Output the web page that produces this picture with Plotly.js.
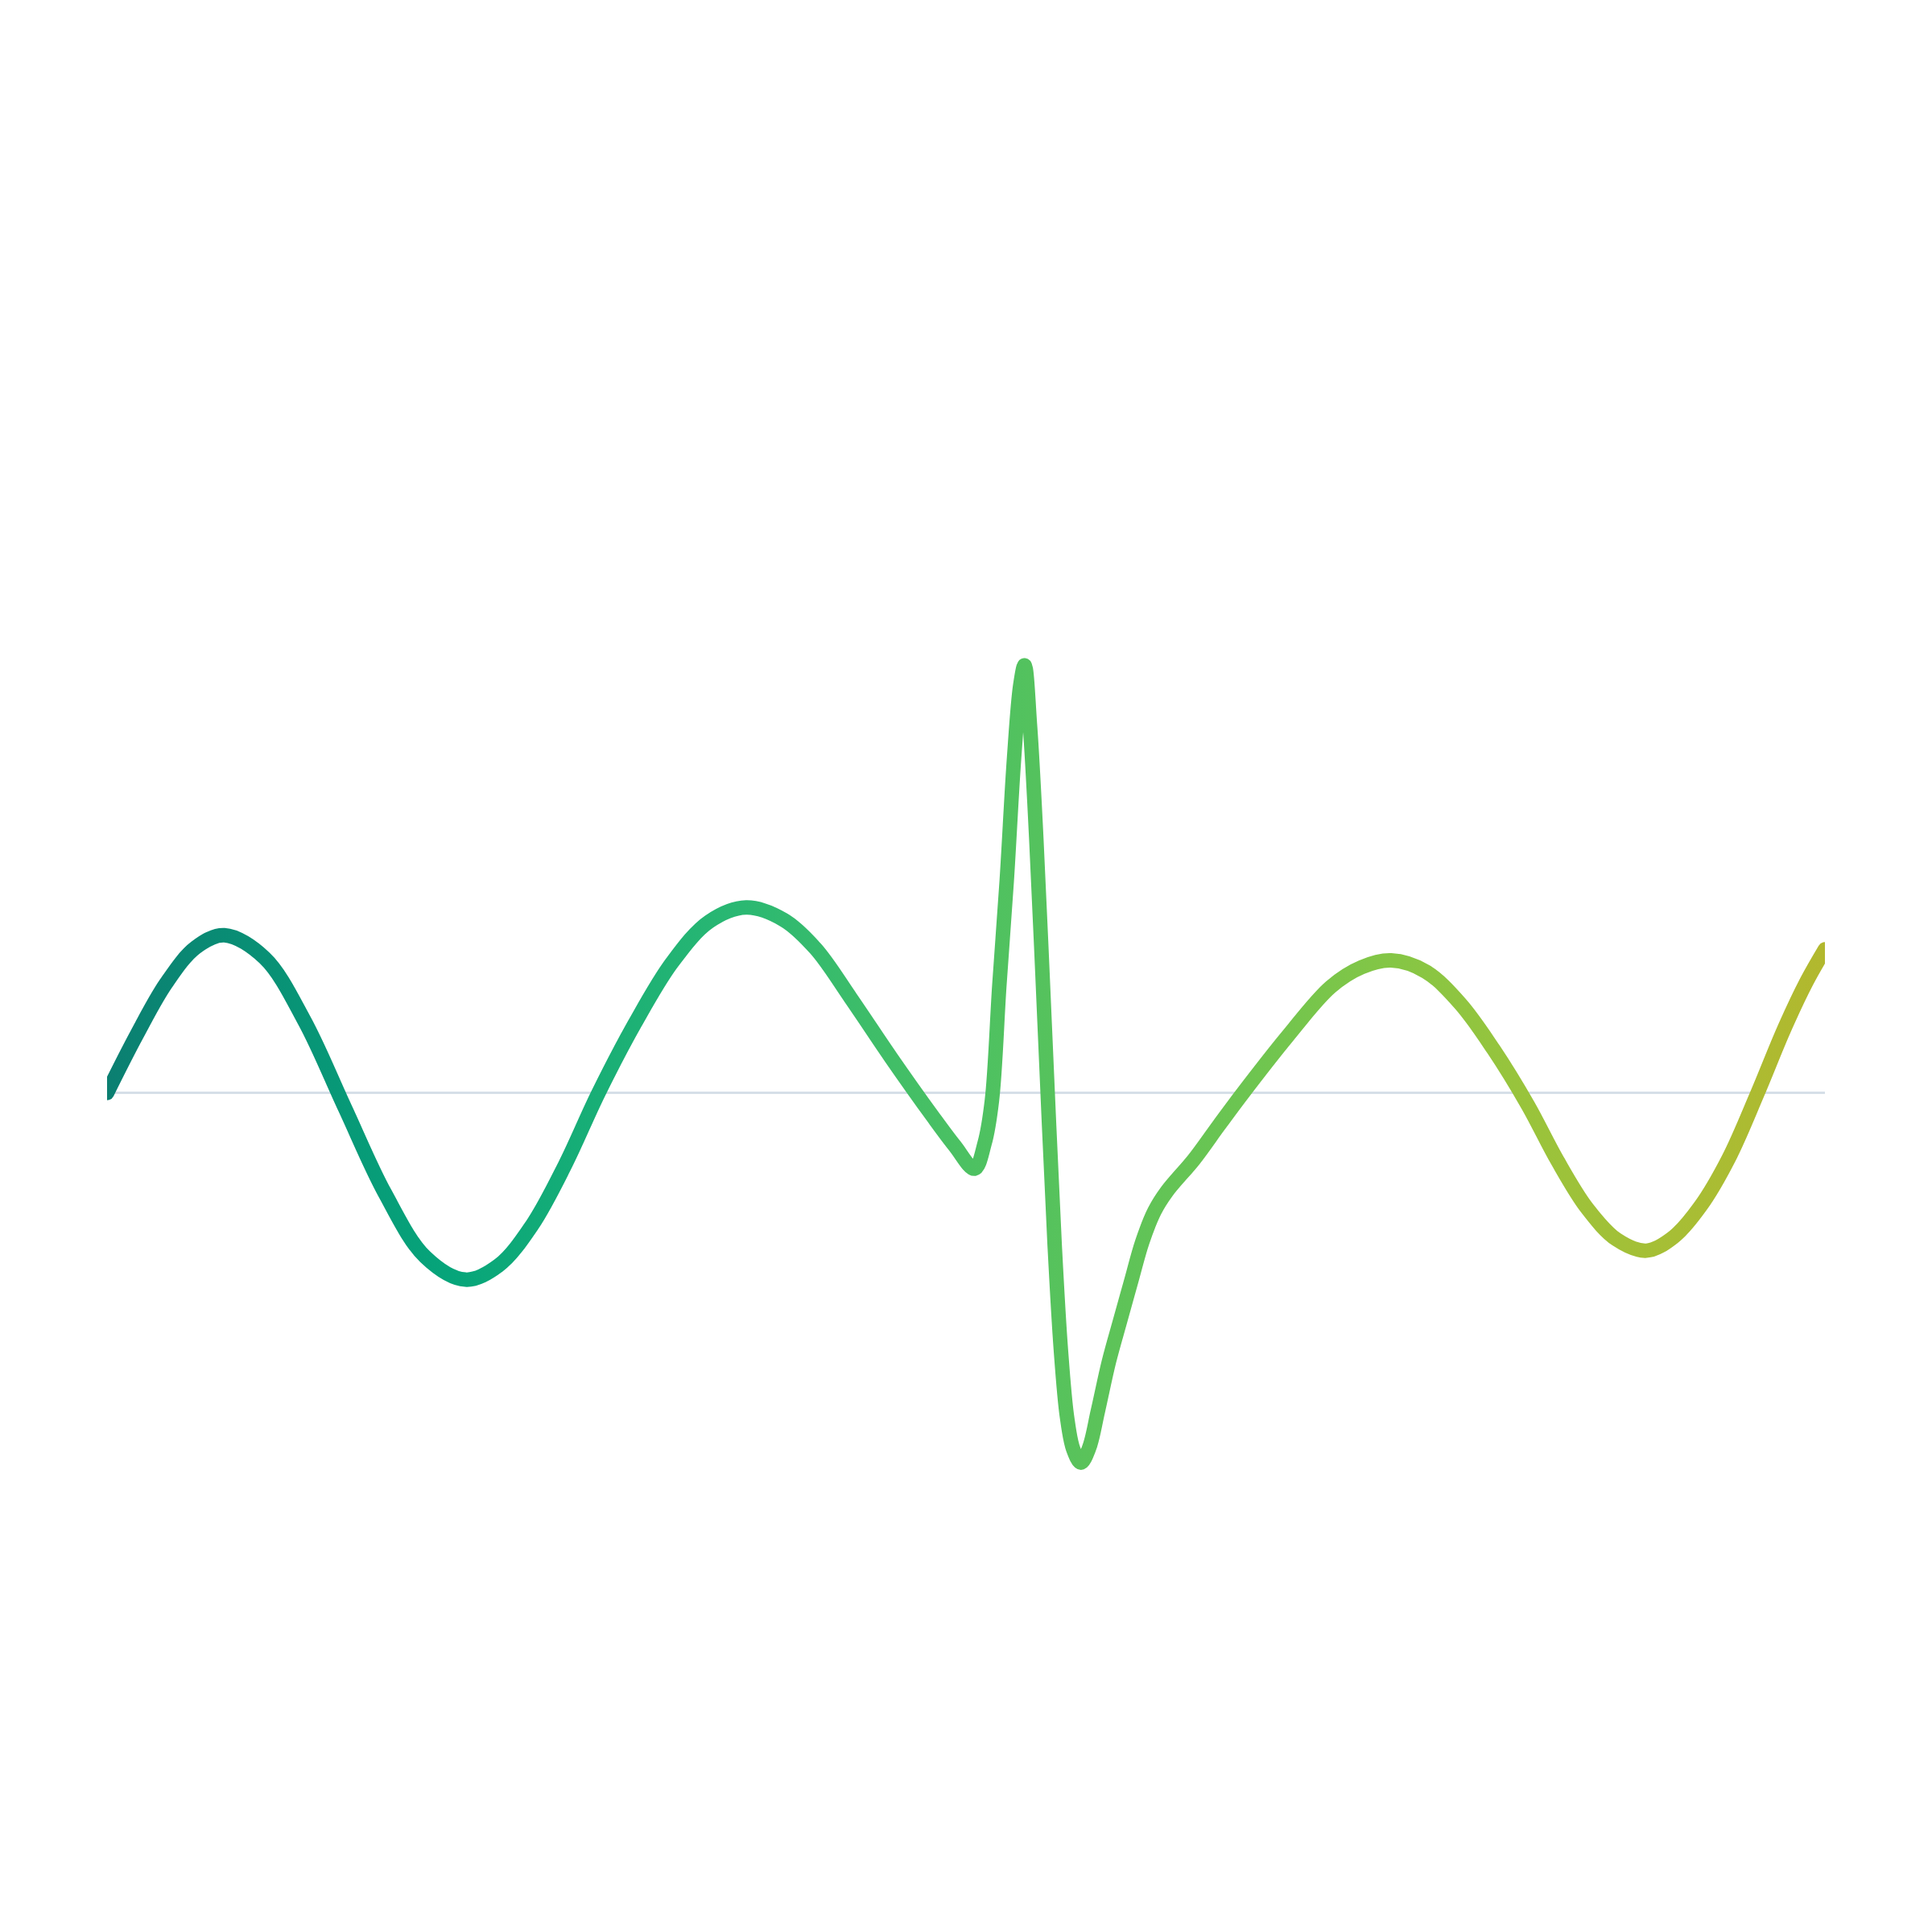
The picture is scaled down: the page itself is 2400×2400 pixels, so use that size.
<!DOCTYPE html>
<html>
<head>
<meta charset="utf-8">
<script src="https://cdn.plot.ly/plotly-3.0.1.min.js"></script>
<style>html,body{margin:0;padding:0;background:#fff;}</style>
</head>
<body>
<div id="chart" style="width:2400px;height:2400px;"></div>
<script>
// Signal samples
var xValues = [0, 1.72, 3.44, 5.16, 6.83, 9.17, 11.51, 13.84, 16.18, 18.52, 20.86,
  22.79, 24.73, 26.66, 28.59, 30.75, 32.90, 35.05, 37.20,
  39.38, 41.25, 43.29, 45.62, 48.06, 49.35, 50.50,
  51.08, 51.51, 51.94, 52.37, 52.80, 53.16, 53.41,
  53.73, 54.09, 54.45, 54.81, 55.16, 55.52, 55.88, 56.24, 56.69,
  57.17, 57.68, 58.32, 58.97, 59.61, 60.26, 60.97, 61.69, 63.27, 64.71, 66.07,
  68.72, 71.23, 73.03, 74.75,
  76.76, 78.77, 80.70, 82.71, 84.43, 86.15, 87.88, 89.61,
  91.18, 92.75, 94.40, 96.05, 97.63, 98.92, 100];
var yValues = [0, 0.94, 1.78, 2.36, 2.56, 2.19, 1.16, -0.24, -1.63, -2.66, -3.03,
  -2.80, -2.15, -1.17, -0.01, 1.14, 2.12, 2.78, 3.01,
  2.81, 2.34, 1.54, 0.58, -0.38, -0.86, -1.23,
  -0.82, -0.12, 1.74, 3.44, 5.44, 6.62, 6.94,
  5.94, 4.14, 1.94, -0.36, -2.46, -4.16, -5.26, -5.78, -6.00,
  -5.76, -5.16, -4.36, -3.70, -3.06, -2.42, -1.92, -1.60, -1.08, -0.53, -0.02,
  0.92, 1.72, 2.04, 2.15,
  1.97, 1.45, 0.71, -0.20, -1.10, -1.87, -2.38, -2.56,
  -2.34, -1.84, -1.06, -0.02, 1.04, 1.80, 2.33];

// Gradient colour stops along the line (fraction of width, colour)
var gradStops = [0, 0.2, 0.37, 0.5, 0.66, 0.75, 0.82, 0.9, 1.0];
var gradColors = ['#0b7f71', '#06a57a', '#2bb872', '#4cc162', '#6cc551', '#85c645', '#98c43c', '#a5bf36', '#b2b82e'];

var trace = {
  x: xValues,
  y: yValues,
  type: 'scatter',
  mode: 'lines',
  line: {shape: 'spline', smoothing: 1, width: 18, color: gradColors[4], simplify: false},
  hoverinfo: 'skip',
  showlegend: false
};

var layout = {
  width: 2400,
  height: 2400,
  margin: {l: 133, r: 133, t: 133, b: 133, pad: 0},
  paper_bgcolor: '#ffffff',
  plot_bgcolor: '#ffffff',
  showlegend: false,
  xaxis: {range: [0, 100], showgrid: false, zeroline: false, showticklabels: false, ticks: '', showline: false},
  yaxis: {range: [-11.88, 16], showgrid: false, zeroline: true, zerolinecolor: '#d6dfe8', zerolinewidth: 3.5,
          showticklabels: false, ticks: '', showline: false}
};

var gd = document.getElementById('chart');
Plotly.newPlot(gd, [trace], layout, {displayModeBar: false, staticPlot: true}).then(function () {
  var ns = 'http://www.w3.org/2000/svg';
  var svg = gd.querySelector('svg.main-svg');
  var defs = svg.querySelector('defs') || svg.insertBefore(document.createElementNS(ns, 'defs'), svg.firstChild);
  var w = gd._fullLayout._size.w;
  var lg = document.createElementNS(ns, 'linearGradient');
  lg.setAttribute('id', 'lineGrad');
  lg.setAttribute('gradientUnits', 'userSpaceOnUse');
  lg.setAttribute('x1', 0); lg.setAttribute('y1', 0);
  lg.setAttribute('x2', w); lg.setAttribute('y2', 0);
  for (var i = 0; i < gradStops.length; i++) {
    var s = document.createElementNS(ns, 'stop');
    s.setAttribute('offset', gradStops[i]);
    s.setAttribute('stop-color', gradColors[i]);
    lg.appendChild(s);
  }
  defs.appendChild(lg);
  gd.querySelectorAll('.scatterlayer path.js-line').forEach(function (p) {
    p.style.stroke = 'url(#lineGrad)';
    p.style.strokeLinecap = 'round';
    p.style.strokeLinejoin = 'round';
  });
});
</script>
</body>
</html>
